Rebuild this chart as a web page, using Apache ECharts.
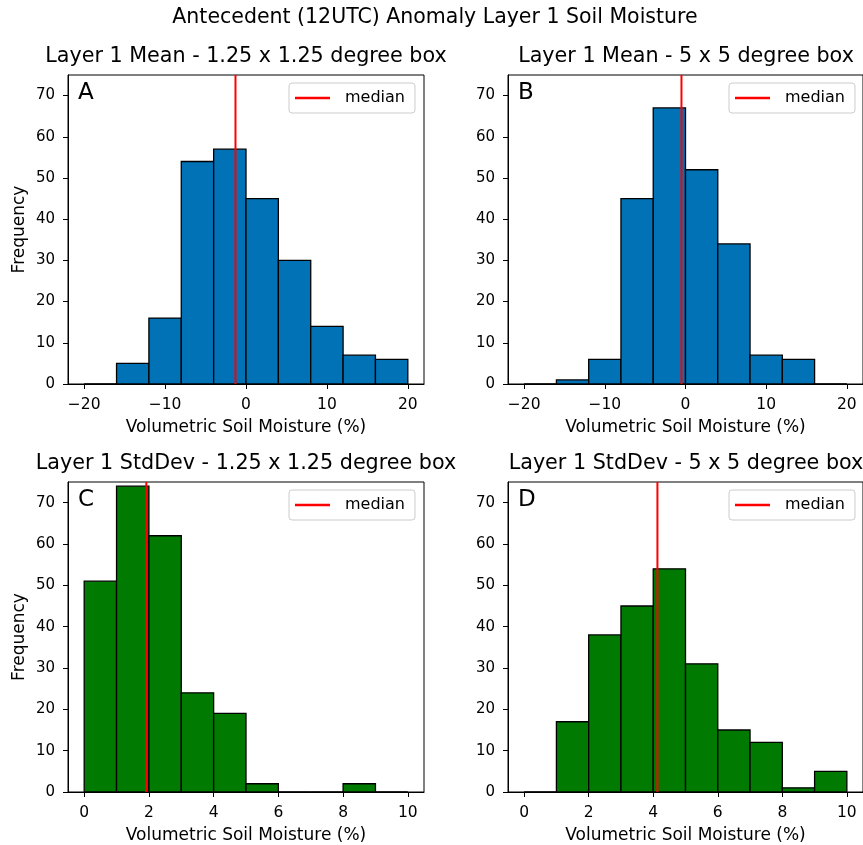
<!DOCTYPE html>
<html><head><meta charset="utf-8">
<script src="https://cdn.jsdelivr.net/npm/echarts@6/dist/echarts.min.js"></script>
<style>html,body{margin:0;padding:0;background:#fff}#c{width:863px;height:845px}</style>
</head><body><div id="c"></div>
<script>
// ---- data ----
const meanBinStarts = [-20, -16, -12, -8, -4, 0, 4, 8, 12, 16];
const meanBinWidth = 4;
const stdBinStarts = [0, 1, 2, 3, 4, 5, 6, 7, 8, 9];
const stdBinWidth = 1;
const countsA = [0, 5, 16, 54, 57, 45, 30, 14, 7, 6];
const countsB = [0, 1, 6, 45, 67, 52, 34, 7, 6, 0];
const countsC = [51, 74, 62, 24, 19, 2, 0, 0, 2, 0];
const countsD = [0, 17, 38, 45, 54, 31, 15, 12, 1, 5];
const medianA = -1.3, medianB = -0.5, medianC = 1.92, medianD = 4.13;
const meanTicks = [-20, -10, 0, 10, 20];
const stdTicks = [0, 2, 4, 6, 8, 10];
const freqTicks = [0, 10, 20, 30, 40, 50, 60, 70];
const mainTitle = 'Antecedent (12UTC) Anomaly Layer 1 Soil Moisture';
const subTitles = ['Layer 1 Mean - 1.25 x 1.25 degree box', 'Layer 1 Mean - 5 x 5 degree box',
  'Layer 1 StdDev - 1.25 x 1.25 degree box', 'Layer 1 StdDev - 5 x 5 degree box'];
const letters = ['A', 'B', 'C', 'D'];
const xLabel = 'Volumetric Soil Moisture (%)';
const yLabel = 'Frequency';

// ---- layout ----
const FONT = 'DejaVu Sans';
const grids = [
  {left: 68, top: 75, width: 356, height: 309},
  {left: 508, top: 75, width: 356, height: 309},
  {left: 68, top: 482, width: 356, height: 310},
  {left: 508, top: 482, width: 356, height: 310}
];
const panels = [
  {starts: meanBinStarts, w: meanBinWidth, counts: countsA, med: medianA, color: '#0172B6', xmin: -22, xmax: 22, ticks: meanTicks},
  {starts: meanBinStarts, w: meanBinWidth, counts: countsB, med: medianB, color: '#0172B6', xmin: -22, xmax: 22, ticks: meanTicks},
  {starts: stdBinStarts, w: stdBinWidth, counts: countsC, med: medianC, color: '#007A00', xmin: -0.5, xmax: 10.5, ticks: stdTicks},
  {starts: stdBinStarts, w: stdBinWidth, counts: countsD, med: medianD, color: '#007A00', xmin: -0.5, xmax: 10.5, ticks: stdTicks}
];
const fmt = v => (v < 0 ? '\u2212' + Math.abs(v) : String(v));

const xAxes = [], yAxes = [], series = [], legends = [], graphics = [];
panels.forEach((p, i) => {
  const g = grids[i];
  xAxes.push({
    type: 'value', gridIndex: i, min: p.xmin, max: p.xmax,
    name: xLabel, nameLocation: 'middle', nameGap: 35,
    nameTextStyle: {fontFamily: FONT, fontSize: 17, color: '#000'},
    axisLine: {show: true, onZero: false, lineStyle: {color: '#000', width: 1}},
    axisTick: {show: true, length: 5, customValues: p.ticks, lineStyle: {color: '#000'}},
    axisLabel: {customValues: p.ticks, formatter: fmt, fontFamily: FONT, fontSize: 15.5, color: '#000', margin: 13},
    splitLine: {show: false}
  });
  yAxes.push({
    type: 'value', gridIndex: i, min: 0, max: 75,
    name: (i % 2 === 0) ? yLabel : '', nameLocation: 'middle', nameGap: 40, nameRotate: 90,
    nameTextStyle: {fontFamily: FONT, fontSize: 17, color: '#000'},
    axisLine: {show: true, onZero: false, lineStyle: {color: '#000', width: 1}},
    axisTick: {show: true, length: 5, customValues: freqTicks, lineStyle: {color: '#000'}},
    axisLabel: {customValues: freqTicks, fontFamily: FONT, fontSize: 15, color: '#000', margin: 13},
    splitLine: {show: false}
  });
  const data = p.starts.map((s, k) => [s, s + p.w, p.counts[k]]);
  series.push({
    type: 'custom', name: 'hist' + i, xAxisIndex: i, yAxisIndex: i,
    encode: {x: [0, 1], y: 2}, clip: true, z: 2,
    data: data,
    renderItem: (params, api) => {
      const p0 = api.coord([api.value(0), api.value(2)]);
      const p1 = api.coord([api.value(1), 0]);
      return {type: 'rect', shape: {x: p0[0], y: p0[1], width: p1[0] - p0[0], height: p1[1] - p0[1]},
        style: {fill: p.color, stroke: '#000', lineWidth: 1.3}};
    }
  });
  series.push({
    type: 'line', name: 'median', xAxisIndex: i, yAxisIndex: i, z: 5,
    data: [[p.med, 0], [p.med, 75]], symbol: 'none',
    lineStyle: {color: '#FF0000', width: 2}, itemStyle: {color: '#FF0000'}, silent: true
  });
  legends.push({
    data: ['median'], left: g.left + 221, top: g.top + 8,
    orient: 'horizontal', icon: 'rect', itemWidth: 35, itemHeight: 2.5,
    padding: [7, 10, 7, 6], borderColor: '#cccccc', borderWidth: 1, borderRadius: 3,
    backgroundColor: 'rgba(255,255,255,0.8)',
    textStyle: {fontFamily: FONT, fontSize: 16, color: '#000', padding: [0, 0, 0, 10]}
  });
  graphics.push({
    type: 'text', left: g.left + 10, top: g.top + 7, z: 10,
    style: {text: letters[i], font: '23px "' + FONT + '"', fill: '#000'}
  });
  graphics.push({
    type: 'text', x: g.left + g.width / 2, y: g.top - 18, z: 10,
    style: {text: subTitles[i], font: '20.7px "' + FONT + '"', fill: '#000', align: 'center', verticalAlign: 'middle'}
  });
});
graphics.push({
  type: 'text', x: 435, y: 18, z: 10,
  style: {text: mainTitle, font: '20.5px "' + FONT + '"', fill: '#000', align: 'center', verticalAlign: 'middle'}
});

const chart = echarts.init(document.getElementById('c'), null, {renderer: 'canvas'});
chart.setOption({
  animation: false,
  backgroundColor: '#fff',
  grid: grids.map(g => Object.assign({show: true, borderColor: '#000', borderWidth: 1, backgroundColor: 'transparent', containLabel: false}, g)),
  xAxis: xAxes,
  yAxis: yAxes,
  legend: legends,
  series: series,
  graphic: graphics
});
</script></body></html>
